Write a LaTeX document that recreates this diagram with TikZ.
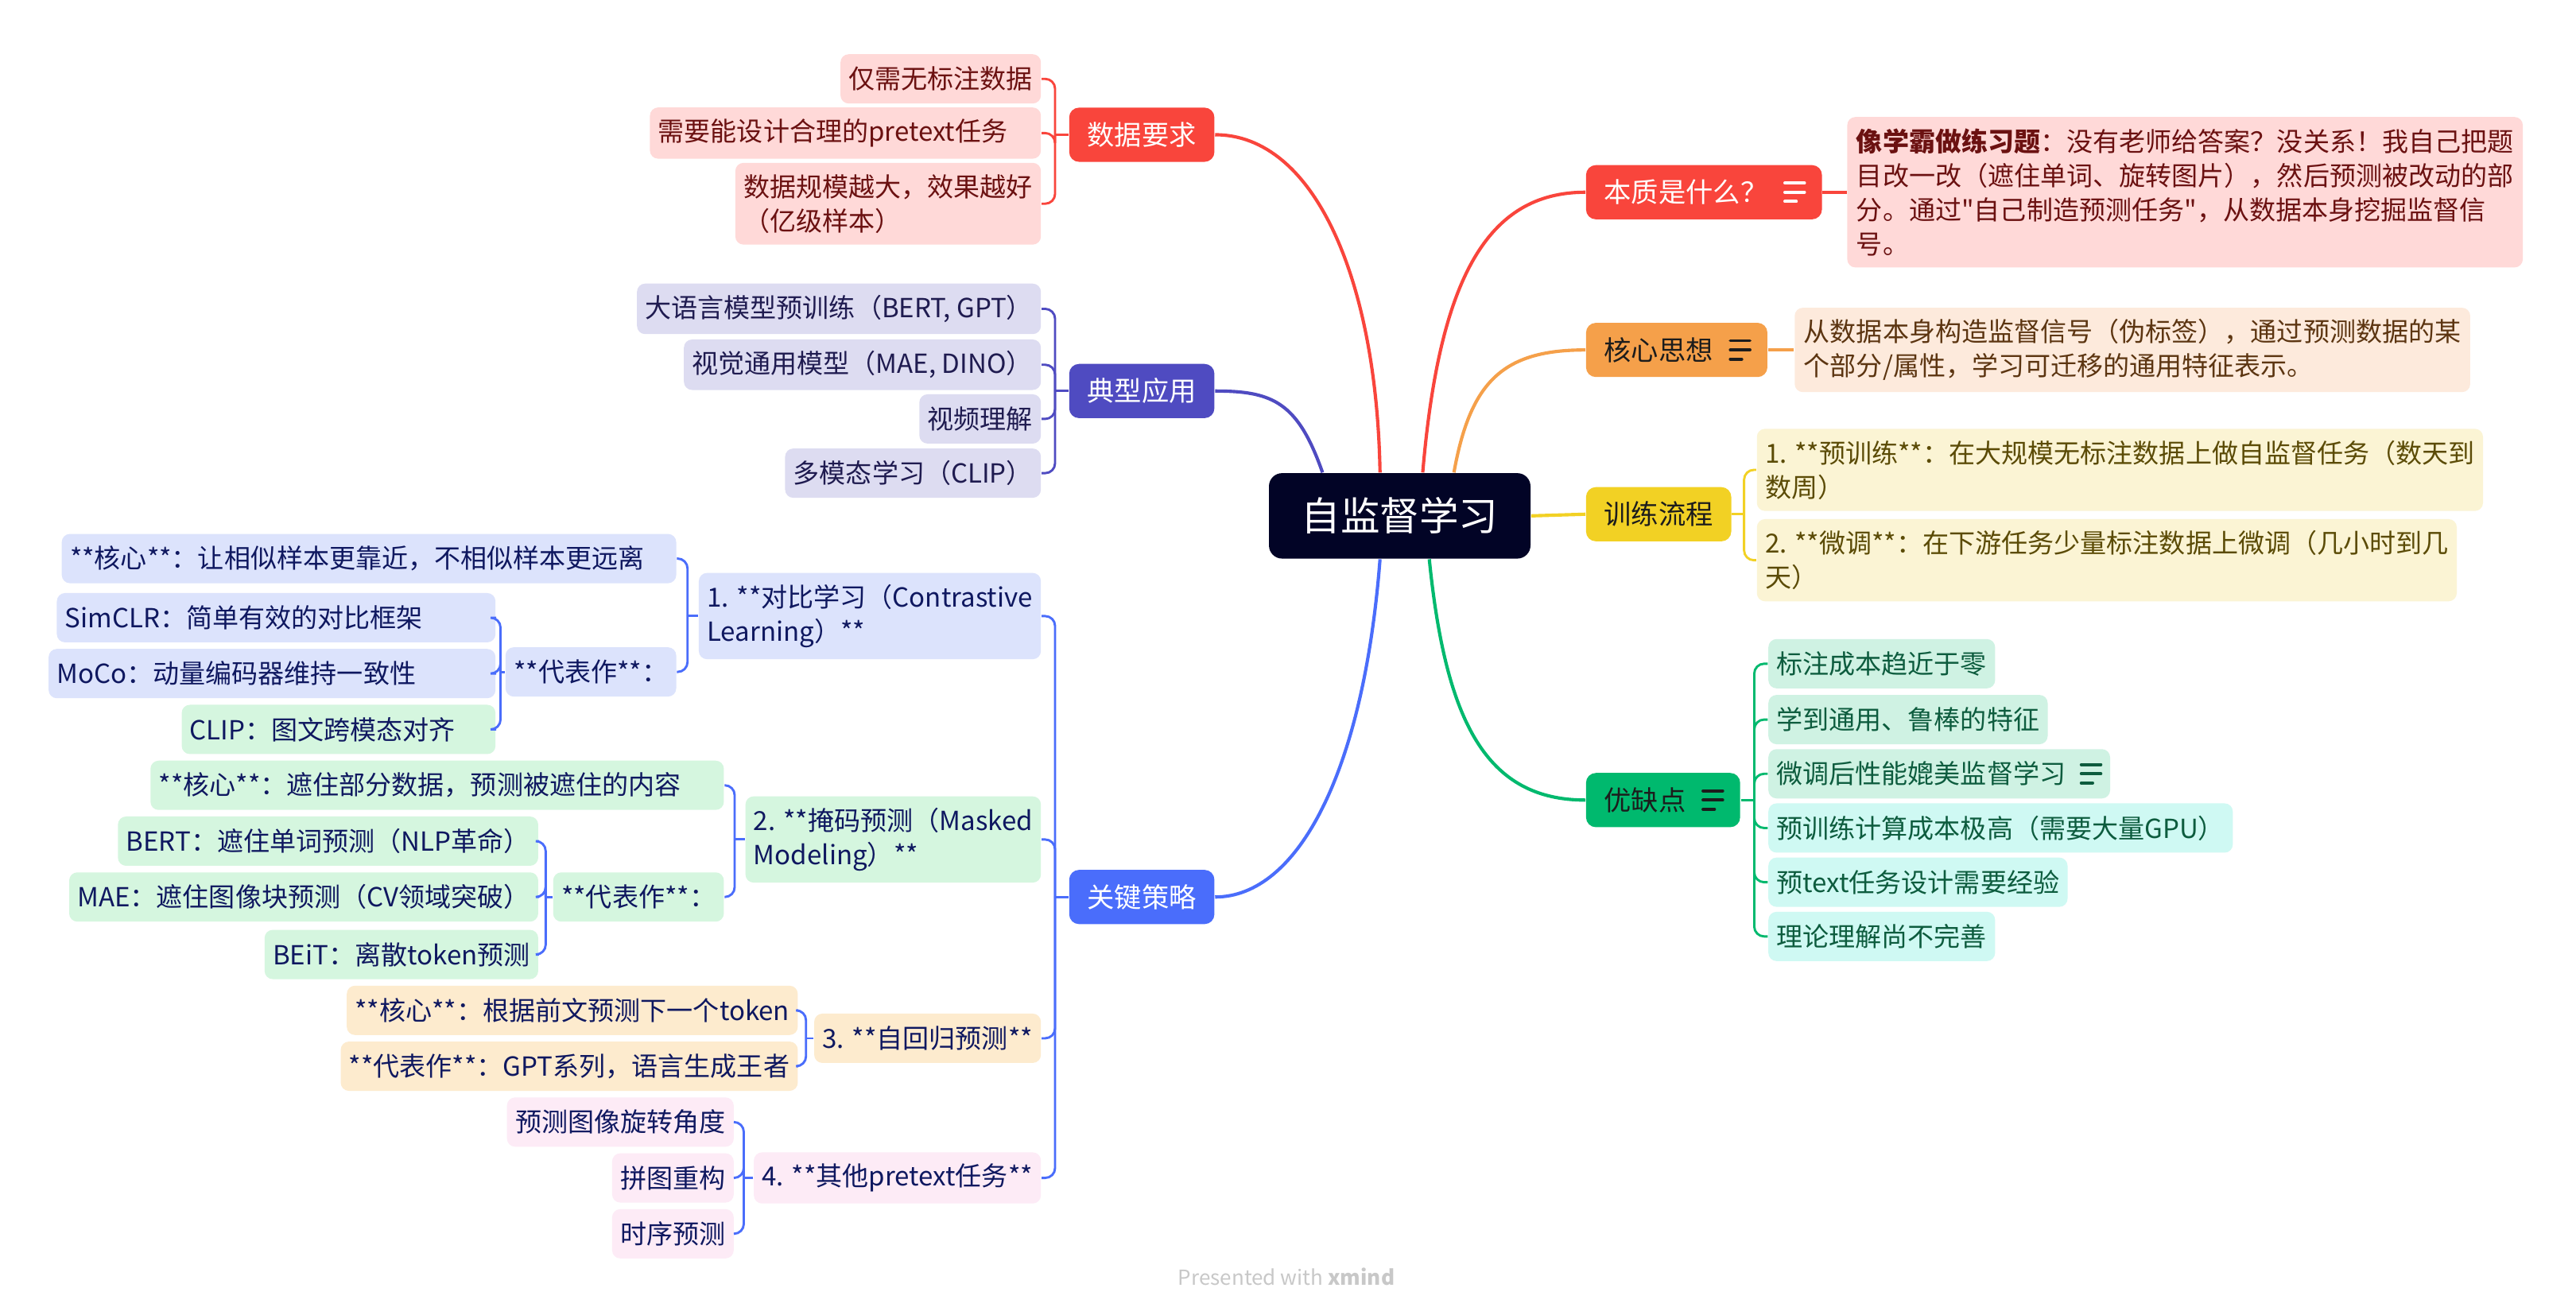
\documentclass[tikz,border=0pt]{standalone}
\usepackage{fontspec}
\usetikzlibrary{calc}
\setmainfont{Noto Sans CJK SC}
\newfontfamily\qfont{Noto Sans CJK SC}
\definecolor{cRed}{HTML}{F9453C}
\definecolor{cInd}{HTML}{4F4BC1}
\definecolor{cBlue}{HTML}{4A6DFB}
\definecolor{cOrg}{HTML}{F5A04A}
\definecolor{cYel}{HTML}{F2D124}
\definecolor{cGrn}{HTML}{00B96E}
\definecolor{cCen}{HTML}{020426}
\definecolor{cDark}{HTML}{1C1C1C}
\definecolor{lPink}{HTML}{FFD9D8}
\definecolor{tPink}{HTML}{6B1111}
\definecolor{lApp}{HTML}{DDDCF1}
\definecolor{tApp}{HTML}{1F1B50}
\definecolor{lBlue}{HTML}{DCE3FC}
\definecolor{tNavy}{HTML}{0F1860}
\definecolor{lGrn}{HTML}{D5F6DF}
\definecolor{lOrg}{HTML}{FDEBCE}
\definecolor{lRose}{HTML}{FDEBF6}
\definecolor{lPeach}{HTML}{FDEADC}
\definecolor{tBrown}{HTML}{5C3511}
\definecolor{lYel}{HTML}{FBF4D4}
\definecolor{tOlive}{HTML}{5B4B06}
\definecolor{lMint}{HTML}{CFF2E3}
\definecolor{lCyan}{HTML}{CFF9F3}
\definecolor{tGreen}{HTML}{0D5C3E}
\definecolor{cFoot}{HTML}{C8C8C8}
\tikzset{
  leaf/.style={rounded corners=2.5pt, inner xsep=2.5pt, inner ysep=3.5pt, minimum height=15pt, font=\fontsize{8}{10.4}\selectfont, align=left},
  topic/.style={rounded corners=3pt, inner xsep=5.5pt, inner ysep=2pt, minimum height=16.5pt, font=\fontsize{8.3}{10}\selectfont, text=white},
  central/.style={rounded corners=4pt, fill=cCen, text=white, inner xsep=9.8pt, minimum height=26pt, font=\fontsize{12}{14}\selectfont},
  pinkleaf/.style={leaf, fill=lPink, text=tPink},
  appleaf/.style={leaf, fill=lApp, text=tApp},
  bleaf/.style={leaf, fill=lBlue, text=tNavy},
  gleaf/.style={leaf, fill=lGrn, text=tNavy},
  oleaf/.style={leaf, fill=lOrg, text=tNavy},
  kleaf/.style={leaf, fill=lRose, text=tNavy},
  bzleaf/.style={leaf, fill=lPink, text=tPink, inner xsep=2.8pt},
  hxleaf/.style={leaf, fill=lPeach, text=tBrown, inner xsep=2.8pt},
  trleaf/.style={leaf, fill=lYel, text=tOlive},
  mintleaf/.style={leaf, fill=lMint, text=tGreen},
  cyanleaf/.style={leaf, fill=lCyan, text=tGreen},
  mainline/.style={line width=1pt},
  conn/.style={line width=0.7pt, rounded corners=3pt},
  iconline/.style={line width=0.9pt, line cap=round},
}
\newcommand\mmnote[3]{%
  \draw[iconline, #2] ([xshift=-#3, yshift=2.8pt]#1.east) -- ++(6pt,0);
  \draw[iconline, #2] ([xshift=-#3]#1.east) -- ++(6pt,0);
  \draw[iconline, #2] ([xshift=-#3, yshift=-2.8pt]#1.east) -- ++(3.5pt,0);
}
\newcommand\iconspace{\rule{11pt}{0pt}}
\begin{document}
\begin{tikzpicture}[x=0.5pt,y=-0.5pt]
\fill[white] (0,0) rectangle (1568,800);
\useasboundingbox (0,0) rectangle (1568,800);

% central
\node[central] (cen) at (852,314) {自监督学习};

% main topics
\node[topic, fill=cRed] (tdata) at (695,82) {数据要求};
\node[topic, fill=cInd] (tapp) at (695,238) {典型应用};
\node[topic, fill=cBlue] (tkey) at (695,546) {关键策略};
\node[topic, fill=cRed, anchor=west] (tess) at (965,117) {本质是什么？\iconspace};
\node[topic, fill=cOrg, text=cDark, anchor=west] (tcore) at (965,213) {核心思想\iconspace};
\node[topic, fill=cYel, text=cDark, anchor=west] (ttrain) at (965,313) {训练流程};
\node[topic, fill=cGrn, text=cDark, anchor=west] (tpc) at (965,487) {优缺点\iconspace};
\mmnote{tess}{white}{11.5pt}
\mmnote{tcore}{cDark}{11.5pt}
\mmnote{tpc}{cDark}{11.5pt}

% data requirements
\node[pinkleaf, anchor=east] (dr1) at (634,48) {仅需无标注数据};
\node[pinkleaf, anchor=east, text width=114pt] (dr2) at (634,81) {需要能设计合理的pretext任务};
\node[pinkleaf, anchor=east] (dr3) at (634,124) {数据规模越大，效果越好\\（亿级样本）};

% applications
\node[appleaf, anchor=east] (ap1) at (634,188) {大语言模型预训练（BERT, GPT）};
\node[appleaf, anchor=east] (ap2) at (634,222) {视觉通用模型（MAE, DINO）};
\node[appleaf, anchor=east] (ap3) at (634,255) {视频理解};
\node[appleaf, anchor=east] (ap4) at (634,288) {多模态学习（CLIP）};

% key strategies
\node[bleaf, anchor=east] (ks1) at (634,375) {1. **对比学习（Contrastive\\Learning）**};
\node[gleaf, anchor=east] (ks2) at (634,511) {2. **掩码预测（Masked\\Modeling）**};
\node[oleaf, anchor=east] (ks3) at (634,632) {3. **自回归预测**};
\node[kleaf, anchor=east] (ks4) at (634,717) {4. **其他pretext任务**};

\node[bleaf, anchor=east, text width=182pt] (k1a) at (412,340) {**核心**：让相似样本更靠近，不相似样本更远离};
\node[bleaf, anchor=east] (k1b) at (412,409) {**代表作**：};
\node[bleaf, anchor=east, text width=128.5pt] (k1b1) at (302,376) {SimCLR：简单有效的对比框架};
\node[bleaf, anchor=east, text width=131pt] (k1b2) at (302,410) {MoCo：动量编码器维持一致性};
\node[gleaf, anchor=east, text width=90.5pt] (k1b3) at (302,444) {CLIP：图文跨模态对齐};

\node[gleaf, anchor=east, text width=169.5pt] (k2a) at (441,478) {**核心**：遮住部分数据，预测被遮住的内容};
\node[gleaf, anchor=east] (k2b) at (441,546) {**代表作**：};
\node[gleaf, anchor=east] (k2b1) at (328,512) {BERT：遮住单词预测（NLP革命）};
\node[gleaf, anchor=east] (k2b2) at (328,546) {MAE：遮住图像块预测（CV领域突破）};
\node[gleaf, anchor=east] (k2b3) at (328,581) {BEiT：离散token预测};

\node[oleaf, anchor=east] (k3a) at (486,615) {**核心**：根据前文预测下一个token};
\node[oleaf, anchor=east] (k3b) at (486,649) {**代表作**：GPT系列，语言生成王者};

\node[kleaf, anchor=east] (k4a) at (447,683) {预测图像旋转角度};
\node[kleaf, anchor=east] (k4b) at (447,717) {拼图重构};
\node[kleaf, anchor=east] (k4c) at (447,751) {时序预测};

% right side
\node[bzleaf, anchor=west] (bz) at (1124,117) {\textbf{像学霸做练习题}：没有老师给答案？没关系！我自己把题\\目改一改（遮住单词、旋转图片），然后预测被改动的部\\分。通过{\qfont"}自己制造预测任务{\qfont"}，从数据本身挖掘监督信\\号。};
\node[hxleaf, anchor=west] (hx) at (1092,213) {从数据本身构造监督信号（伪标签），通过预测数据的某\\个部分/属性，学习可迁移的通用特征表示。};
\node[trleaf, anchor=west] (tr1) at (1069,286) {1. **预训练**：在大规模无标注数据上做自监督任务（数天到\\数周）};
\node[trleaf, anchor=west] (tr2) at (1069,341) {2. **微调**：在下游任务少量标注数据上微调（几小时到几\\天）};

\node[mintleaf, anchor=west] (pc1) at (1076,404) {标注成本趋近于零};
\node[mintleaf, anchor=west] (pc2) at (1076,438) {学到通用、鲁棒的特征};
\node[mintleaf, anchor=west] (pc3) at (1076,471) {微调后性能媲美监督学习\iconspace};
\node[cyanleaf, anchor=west] (pc4) at (1076,504) {预训练计算成本极高（需要大量GPU）};
\node[cyanleaf, anchor=west] (pc5) at (1076,537) {预text任务设计需要经验};
\node[cyanleaf, anchor=west] (pc6) at (1076,570) {理论理解尚不完善};
\mmnote{pc3}{tGreen}{9pt}

% main curves
\draw[mainline, cRed] ([xshift=-6pt]cen.north) .. controls (838,170) and (800,82) .. (tdata.east);
\draw[mainline, cRed] ([xshift=7pt]cen.north) .. controls (876,170) and (905,117) .. (tess.west);
\draw[mainline, cInd] ([xshift=-23.5pt]cen.north) .. controls (790,245) and (775,238) .. (tapp.east);
\draw[mainline, cOrg] ([xshift=16.5pt]cen.north) .. controls (895,232) and (915,213) .. (tcore.west);
\draw[mainline, cYel] (cen.east) -- (ttrain.west);
\draw[mainline, cGrn] ([xshift=9pt]cen.south) .. controls (880,440) and (905,487) .. (tpc.west);
\draw[mainline, cBlue] ([xshift=-6pt]cen.south) .. controls (830,470) and (790,546) .. (tkey.east);

% brackets left (spine halfway between parent and children)
\coordinate (sdata) at ($(tdata.west)!0.5!(tdata.west -| dr1.east)$);
\draw[conn, cRed] (tdata.west) -- (sdata);
\foreach \c in {dr1,dr2,dr3} \draw[conn, cRed] (sdata) |- (\c.east);

\coordinate (sapp) at ($(tapp.west)!0.5!(tapp.west -| ap1.east)$);
\draw[conn, cInd] (tapp.west) -- (sapp);
\foreach \c in {ap1,ap2,ap3,ap4} \draw[conn, cInd] (sapp) |- (\c.east);

\coordinate (skey) at ($(tkey.west)!0.5!(tkey.west -| ks1.east)$);
\draw[conn, cBlue] (tkey.west) -- (skey);
\foreach \c in {ks1,ks2,ks3,ks4} \draw[conn, cBlue] (skey) |- (\c.east);

\coordinate (sks1) at ($(ks1.west)!0.5!(ks1.west -| k1a.east)$);
\draw[conn, cBlue] (ks1.west) -- (sks1);
\foreach \c in {k1a,k1b} \draw[conn, cBlue] (sks1) |- (\c.east);

\coordinate (sk1b) at ($(k1b.west)!0.5!(k1b.west -| k1b1.east)$);
\draw[conn, cBlue] (k1b.west) -- (sk1b);
\foreach \c in {k1b1,k1b2,k1b3} \draw[conn, cBlue] (sk1b) |- (\c.east);

\coordinate (sks2) at ($(ks2.west)!0.5!(ks2.west -| k2a.east)$);
\draw[conn, cBlue] (ks2.west) -- (sks2);
\foreach \c in {k2a,k2b} \draw[conn, cBlue] (sks2) |- (\c.east);

\coordinate (sk2b) at ($(k2b.west)!0.5!(k2b.west -| k2b1.east)$);
\draw[conn, cBlue] (k2b.west) -- (sk2b);
\foreach \c in {k2b1,k2b2,k2b3} \draw[conn, cBlue] (sk2b) |- (\c.east);

\coordinate (sks3) at ($(ks3.west)!0.5!(ks3.west -| k3a.east)$);
\draw[conn, cBlue] (ks3.west) -- (sks3);
\foreach \c in {k3a,k3b} \draw[conn, cBlue] (sks3) |- (\c.east);

\coordinate (sks4) at ($(ks4.west)!0.5!(ks4.west -| k4a.east)$);
\draw[conn, cBlue] (ks4.west) -- (sks4);
\foreach \c in {k4a,k4b,k4c} \draw[conn, cBlue] (sks4) |- (\c.east);

% right connectors
\draw[mainline, cRed] (tess.east) -- (bz.west);
\draw[mainline, cOrg] (tcore.east) -- (hx.west);

\coordinate (strain) at ($(ttrain.east)!0.5!(ttrain.east -| tr1.west)$);
\draw[conn, cYel] (ttrain.east) -- (strain);
\foreach \c in {tr1,tr2} \draw[conn, cYel] (strain) |- (\c.west);

\coordinate (spc) at ($(tpc.east)!0.5!(tpc.east -| pc1.west)$);
\draw[conn, cGrn] (tpc.east) -- (spc);
\foreach \c in {pc1,pc2,pc3,pc4,pc5,pc6} \draw[conn, cGrn] (spc) |- (\c.west);

% footer
\node[font=\fontsize{6.3}{7}\selectfont, text=cFoot] (foot) at (783,777) {Presented with \textbf{xmind}};
\end{tikzpicture}
\end{document}
